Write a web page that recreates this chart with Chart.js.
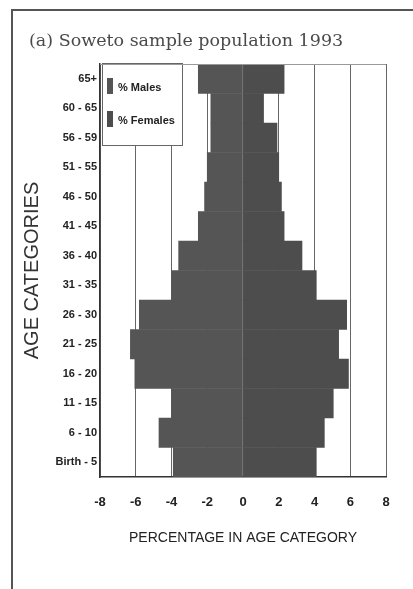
<!DOCTYPE html>
<html>
<head>
<meta charset="utf-8">
<script src="https://cdn.jsdelivr.net/npm/chart.js@4.4.1/dist/chart.umd.min.js"></script>
<style>
  html, body { margin: 0; padding: 0; background: #fff; }
  #wrap { width: 413px; height: 589px; position: relative; }
</style>
</head>
<body>
<div id="wrap"><canvas id="pyramid" width="413" height="589"></canvas></div>
<script>
// youngest group first (drawn at the bottom)
const ageGroups = ['Birth - 5', '6 - 10', '11 - 15', '16 - 20', '21 - 25', '26 - 30', '31 - 35',
  '36 - 40', '41 - 45', '46 - 50', '51 - 55', '56 - 59', '60 - 65', '65+'];
const malesPct   = [3.9, 4.7, 4.0, 6.05, 6.3, 5.8, 4.0, 3.6, 2.5, 2.15, 2.0, 1.8, 1.8, 2.5];
const femalesPct = [4.1, 4.55, 5.05, 5.9, 5.35, 5.8, 4.1, 3.3, 2.3, 2.15, 2.0, 1.9, 1.15, 2.3];
const xTicks = [-8, -6, -4, -2, 0, 2, 4, 6, 8];

const narrow = "'Liberation Sans Narrow', 'Arial Narrow', 'Liberation Sans', sans-serif";

// page title and the outer frame of the figure
const frameTitle = {
  id: 'frameTitle',
  beforeDraw(chart) {
    const c = chart.ctx;
    c.save();
    c.fillStyle = '#fff';
    c.fillRect(0, 0, chart.width, chart.height);
    c.strokeStyle = '#555';
    c.lineWidth = 2;
    c.beginPath();
    c.moveTo(12, chart.height);
    c.lineTo(12, 10);
    c.lineTo(chart.width, 10);
    c.stroke();
    c.fillStyle = '#4a4a4a';
    c.font = "17.5px 'DejaVu Serif', serif";
    c.textBaseline = 'middle';
    c.fillText('(a) Soweto sample population 1993', 29, 41);
    c.restore();
  },
  afterDraw(chart) {
    const a = chart.chartArea, c = chart.ctx;
    c.save();
    c.strokeStyle = '#999';
    c.lineWidth = 1;
    c.beginPath();
    c.moveTo(a.left, a.top + 0.5);
    c.lineTo(a.right, a.top + 0.5);
    c.stroke();
    c.restore();
  }
};

// boxed legend in the top left corner of the plot
const boxLegend = {
  id: 'boxLegend',
  afterDatasetsDraw(chart) {
    const a = chart.chartArea, c = chart.ctx;
    const x = a.left + 2, y = a.top - 1, w = 80, h = 82;
    c.save();
    c.fillStyle = '#fff';
    c.fillRect(x, y, w, h);
    c.strokeStyle = '#666';
    c.lineWidth = 1;
    c.strokeRect(x + 0.5, y + 0.5, w, h);
    c.font = "bold 11px " + narrow;
    c.textBaseline = 'middle';
    chart.data.datasets.forEach((ds, i) => {
      const cy = y + 23 + i * 33;
      c.fillStyle = ds.backgroundColor;
      c.fillRect(x + 5, cy - 8, 6, 16);
      c.fillStyle = '#222';
      c.fillText(ds.label, x + 16, cy + 2);
    });
    c.restore();
  }
};

new Chart(document.getElementById('pyramid'), {
  type: 'bar',
  data: {
    labels: ageGroups,
    datasets: [
      { label: '% Males', data: malesPct.map(v => -v), backgroundColor: '#555555' },
      { label: '% Females', data: femalesPct, backgroundColor: '#4d4d4d' }
    ]
  },
  options: {
    indexAxis: 'y',
    responsive: false,
    animation: false,
    layout: { padding: { top: 64, left: 14, right: 27, bottom: 42 } },
    datasets: { bar: { barPercentage: 1, categoryPercentage: 1, borderWidth: 0 } },
    plugins: { legend: { display: false }, tooltip: { enabled: false } },
    scales: {
      x: {
        stacked: true,
        min: -8, max: 8,
        afterBuildTicks: s => { s.ticks = xTicks.map(v => ({ value: v })); },
        afterFit: s => { s.height = 70; },
        grid: { color: '#666', lineWidth: 1, drawTicks: false, z: 0 },
        border: { color: '#333', width: 1.5 },
        ticks: { color: '#222', padding: 18, font: { family: narrow, size: 13, weight: 'bold' },
                 callback: v => String(v) },
        title: { display: true, text: 'PERCENTAGE IN AGE CATEGORY', color: '#222',
                 font: { family: narrow, size: 14 }, padding: 0 }
      },
      y: {
        stacked: true,
        reverse: true,
        afterFit: s => { s.width = 86; },
        grid: { display: false, drawTicks: false },
        border: { color: '#333', width: 1.5 },
        ticks: { color: '#222', padding: 3, font: { family: narrow, size: 11, weight: 'bold' } },
        title: { display: true, text: 'AGE CATEGORIES', color: '#333',
                 font: { family: "'Liberation Sans', sans-serif", size: 20 }, padding: { top: 6, bottom: 0 } }
      }
    }
  },
  plugins: [frameTitle, boxLegend]
});
</script>
</body>
</html>
